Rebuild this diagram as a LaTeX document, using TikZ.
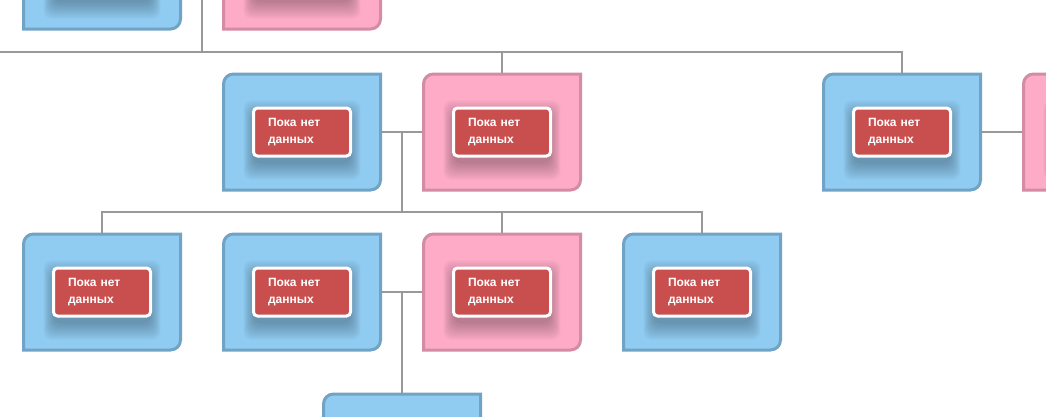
\documentclass[tikz,border=0pt]{standalone}
\usepackage{fontspec}
\setmainfont{Liberation Sans}
\usepackage{xcolor}
\usepackage{tikz}
\usetikzlibrary{calc,backgrounds}
\definecolor{boyfill}{RGB}{144,203,241}
\definecolor{boyline}{RGB}{112,163,196}
\definecolor{girlfill}{RGB}{253,171,199}
\definecolor{girlline}{RGB}{212,139,164}
\definecolor{nodatared}{RGB}{201,79,79}
\definecolor{linkgray}{RGB}{153,153,153}
\tikzstyle{boy}=[fill=boyfill, draw=boyline]
\tikzstyle{girl}=[fill=girlfill, draw=girlline]
\tikzstyle{boxnode}=[minimum width=157, minimum height=116, inner sep=0pt, outer sep=0pt]
\tikzstyle{nodata}=[fill=nodatared, draw=white, line width=3pt, rounded corners=4pt,
	minimum width=97, minimum height=48, inner xsep=14.5pt, text width=68pt, align=left,
	text=white, font=\fontsize{12}{17.5}\selectfont\bfseries]
\tikzstyle{softshadow}=[fill=black, opacity=0.03, rounded corners=8pt]
\tikzstyle{link}=[draw=linkgray, line width=1.5pt]
\newcommand{\person}[3]{
	\node[boxnode] (#1) at #2 {};
	\draw[#3, line width=3pt] (#1.south west) -- ([yshift=-10pt]#1.north west) arc[start angle=180, end angle=90, radius=10pt] -- (#1.north east) -- ([yshift=10pt]#1.south east) arc[start angle=0, end angle=-90, radius=10pt] -- cycle;
	\foreach \e in {14,12,...,-2}
		\fill[softshadow] ($(#1)+(-50-0.6*\e,-17.5-\e)$) rectangle ($(#1)+(50+0.6*\e,33.5+\e)$);
	\node[nodata] (#1n) at (#1) {Пока нет\\данных};
}
\begin{document}
\begin{tikzpicture}[x=1pt, y=-1pt]
	\useasboundingbox (0,0) rectangle (1046,416);
	\person{a1}{(102,-29)}{boy}
	\person{a2}{(302,-29)}{girl}
	\person{b1}{(302,132)}{boy}
	\person{b2}{(502,132)}{girl}
	\person{b3}{(902,132)}{boy}
	\person{b4}{(1102,132)}{girl}
	\person{c1}{(102,292)}{boy}
	\person{c2}{(302,292)}{boy}
	\person{c3}{(502,292)}{girl}
	\person{c4}{(702,292)}{boy}
	\person{d1}{(402,452)}{boy}
	\begin{scope}[on background layer]
		\draw[link] (a1.east) -- (a2.west);
		\draw[link] (b1.east) -- (b2.west);
		\draw[link] (b3.east) -- (b4.west);
		\draw[link] (c2.east) -- (c3.west);
		% children of a1 and a2
		\coordinate (ka) at ($(a1.east)!.5!(a2.west)$);
		\coordinate (kaw) at (-10,52);
		\draw[link] (ka) -- (ka |- kaw);
		\draw[link] (kaw) -| (b3.north);
		\draw[link] (kaw -| b2.north) -- (b2.north);
		% children of b1 and b2
		\coordinate (kb) at ($(b1.east)!.5!(b2.west)$);
		\coordinate (kbw) at (102,212);
		\draw[link] (kb) -- (kb |- kbw);
		\draw[link] (c1.north) -- (c1.north |- kbw) -- (c4.north |- kbw) -- (c4.north);
		\draw[link] (c3.north |- kbw) -- (c3.north);
		% child of c2 and c3
		\coordinate (kc) at ($(c2.east)!.5!(c3.west)$);
		\draw[link] (kc) -- (d1.north);
	\end{scope}
\end{tikzpicture}
\end{document}
